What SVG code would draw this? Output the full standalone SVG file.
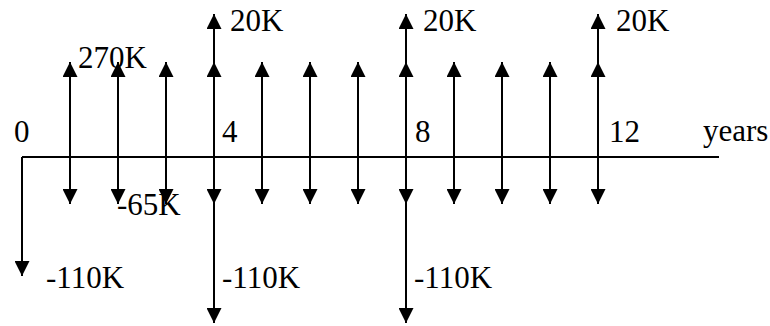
<svg xmlns="http://www.w3.org/2000/svg" width="770" height="326" viewBox="0 0 770 326">
<style>
.ln{stroke:#000;stroke-width:2;fill:none}
.ar{stroke:#000;stroke-width:2;fill:none;marker-end:url(#ah)}
</style>
<defs>
<marker id="ah" viewBox="0 0 15 15" refX="15" refY="7.5" markerWidth="15" markerHeight="15" markerUnits="userSpaceOnUse" orient="auto">
<path d="M0,0 L15,7.5 L0,15 z" fill="#000"/>
</marker>
</defs>
<rect width="770" height="326" fill="#fff"/>
<g id="axis">
<line class="ln" x1="22" y1="157" x2="719" y2="157"/>
</g>
<g id="connectors">
<line class="ar" x1="22" y1="157" x2="22" y2="276"/>
<line class="ar" x1="70" y1="157" x2="70" y2="62"/>
<line class="ar" x1="118" y1="157" x2="118" y2="62"/>
<line class="ar" x1="166" y1="157" x2="166" y2="62"/>
<line class="ar" x1="214" y1="157" x2="214" y2="62"/>
<line class="ar" x1="262" y1="157" x2="262" y2="62"/>
<line class="ar" x1="310" y1="157" x2="310" y2="62"/>
<line class="ar" x1="358" y1="157" x2="358" y2="62"/>
<line class="ar" x1="406" y1="157" x2="406" y2="62"/>
<line class="ar" x1="454" y1="157" x2="454" y2="62"/>
<line class="ar" x1="502" y1="157" x2="502" y2="62"/>
<line class="ar" x1="550" y1="157" x2="550" y2="62"/>
<line class="ar" x1="598" y1="157" x2="598" y2="62"/>
<line class="ar" x1="70" y1="157" x2="70" y2="204"/>
<line class="ar" x1="118" y1="157" x2="118" y2="204"/>
<line class="ar" x1="166" y1="157" x2="166" y2="204"/>
<line class="ar" x1="214" y1="157" x2="214" y2="204"/>
<line class="ar" x1="262" y1="157" x2="262" y2="204"/>
<line class="ar" x1="310" y1="157" x2="310" y2="204"/>
<line class="ar" x1="358" y1="157" x2="358" y2="204"/>
<line class="ar" x1="406" y1="157" x2="406" y2="204"/>
<line class="ar" x1="454" y1="157" x2="454" y2="204"/>
<line class="ar" x1="502" y1="157" x2="502" y2="204"/>
<line class="ar" x1="550" y1="157" x2="550" y2="204"/>
<line class="ar" x1="598" y1="157" x2="598" y2="204"/>
<line class="ar" x1="214" y1="70" x2="214" y2="14"/>
<line class="ar" x1="406" y1="70" x2="406" y2="14"/>
<line class="ar" x1="598" y1="70" x2="598" y2="14"/>
<line class="ar" x1="214" y1="196" x2="214" y2="323"/>
<line class="ar" x1="406" y1="196" x2="406" y2="323"/>
</g>
<text x="14" y="142" font-family="Times New Roman" font-size="31">0</text>
<text x="222" y="142" font-family="Times New Roman" font-size="31">4</text>
<text x="415" y="142" font-family="Times New Roman" font-size="31">8</text>
<text x="609" y="142" font-family="Times New Roman" font-size="31">12</text>
<text x="703" y="141" font-family="Times New Roman" font-size="31">years</text>
<text x="78" y="68" font-family="Times New Roman" font-size="31">270K</text>
<text x="117" y="215" font-family="Times New Roman" font-size="31">-65K</text>
<text x="230" y="31" font-family="Times New Roman" font-size="31">20K</text>
<text x="423" y="31" font-family="Times New Roman" font-size="31">20K</text>
<text x="616" y="31" font-family="Times New Roman" font-size="31">20K</text>
<text x="46" y="288" font-family="Times New Roman" font-size="31">-110K</text>
<text x="222" y="288" font-family="Times New Roman" font-size="31">-110K</text>
<text x="414" y="288" font-family="Times New Roman" font-size="31">-110K</text>
</svg>
